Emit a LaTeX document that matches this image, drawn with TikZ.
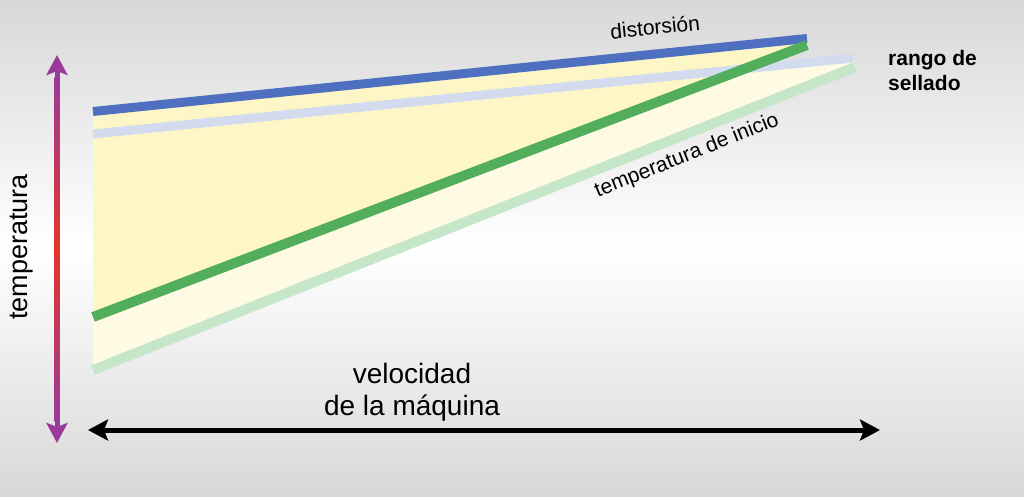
\documentclass[tikz,border=0pt]{standalone}
\usepackage{fontspec}
\setmainfont{Liberation Sans}
\usetikzlibrary{arrows.meta,calc}
\definecolor{bandblue}{HTML}{4F6FC0}
\definecolor{paleblue}{HTML}{D3DCEF}
\definecolor{bandgreen}{HTML}{52AD5C}
\definecolor{palegreen}{HTML}{C6E6CA}
\definecolor{warmfill}{HTML}{FDF7C8}
\definecolor{lightfill}{HTML}{FEFBE2}
\definecolor{axispurple}{HTML}{993A99}
\definecolor{axisred}{HTML}{E5352A}
\definecolor{bggray}{HTML}{D8D8D8}
\tikzset{
  band/.style={line width=9pt, line cap=butt},
  axisarrow/.style={
    {Stealth[length=20pt,width=21pt,inset=4pt]}-{Stealth[length=20pt,width=21pt,inset=4pt]},
    line width=5pt
  },
  lbl/.style={font=\fontsize{21}{25}\selectfont, inner sep=0pt},
  biglbl/.style={font=\fontsize{28}{32}\selectfont, align=center, inner sep=0pt}
}
\begin{document}
\begin{tikzpicture}[x=1pt,y=-1pt]
\shade[top color=bggray, bottom color=bggray, middle color=white] (0,0) rectangle (1024,496);

% band end points
\coordinate (blueL) at (93,111.5);
\coordinate (blueR) at (807,38.5);
\coordinate (lblueL) at (93,134);
\coordinate (lblueR) at (853,58);
\coordinate (greenL) at (93,317);
\coordinate (greenR) at (807,45);
\coordinate (lgreenL) at (93,370);
\coordinate (lgreenR) at (855,67);

\fill[lightfill] (lblueL) -- (lblueR) -- (lgreenR) -- (lgreenL) -- cycle;
\fill[warmfill] (blueL) -- (blueR) -- (greenR) -- (greenL) -- cycle;
\draw[band, paleblue] (lblueL) -- (lblueR);
\draw[band, palegreen, line width=10pt] (lgreenL) -- (lgreenR);
\draw[band, bandblue] (blueL) -- (blueR);
\draw[band, bandgreen, line width=10pt] (greenL) -- (greenR);

% axes
\coordinate (ttop) at (57,55);
\coordinate (tbot) at (57,443);
\coordinate (vleft) at (88,430);
\coordinate (vright) at (880,430);
\draw[axisarrow, axispurple] (ttop) -- (tbot);
\shade[top color=axispurple, bottom color=axispurple, middle color=axisred]
  ($(ttop)+(-2.5,22)$) rectangle ($(tbot)+(2.5,-22)$);
\draw[axisarrow, black] (vleft) -- (vright);

\node[biglbl, font=\fontsize{27}{32}\selectfont, rotate=90] (templbl) at (22,247) {temperatura};
\node[biglbl] (speedlbl) at (412,392) {velocidad\\de la máquina};
\node[lbl, rotate=5.8] (distlbl) at (655,27) {distorsión};
\node[lbl, rotate=21.7] (startlbl) at (687,156) {temperatura de inicio};
\node[lbl, align=left, anchor=west] (rangelbl) at (888,70) {\textbf{rango de}\\\textbf{sellado}};
\end{tikzpicture}
\end{document}
